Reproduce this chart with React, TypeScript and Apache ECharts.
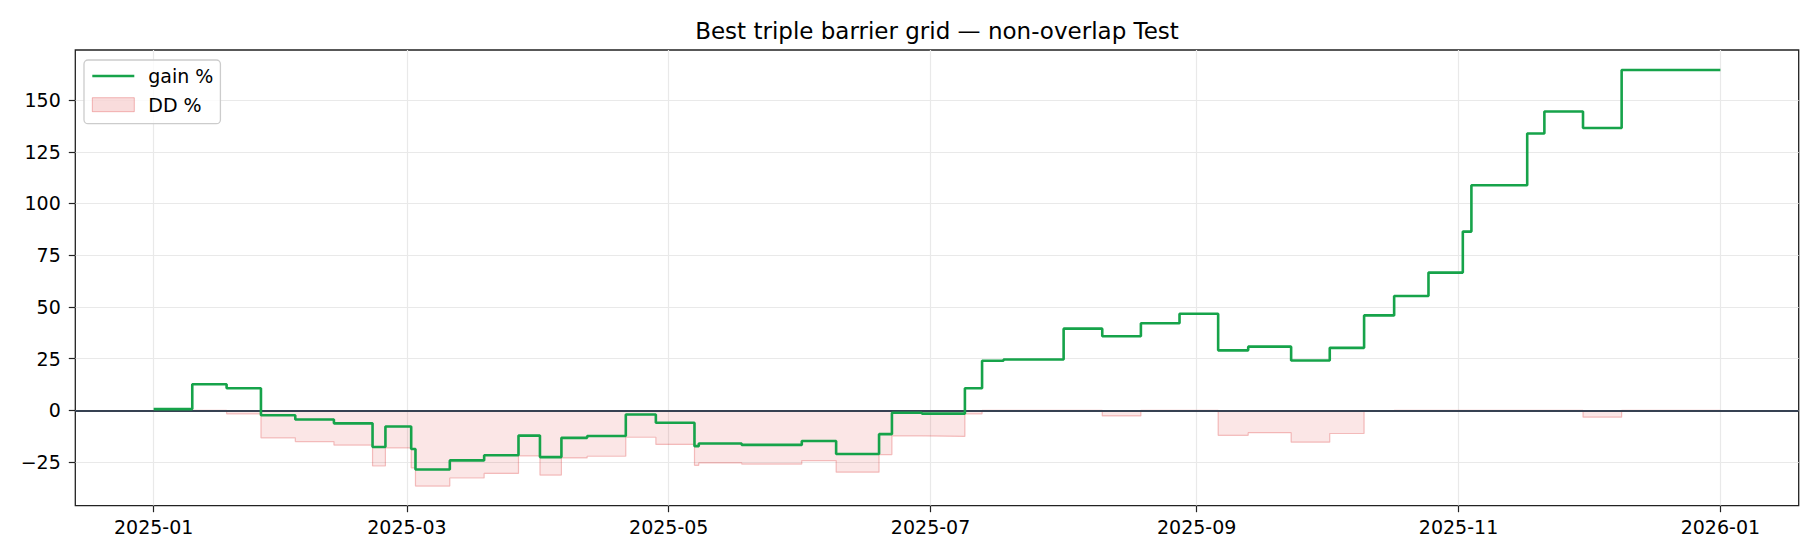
import React, { useEffect, useRef } from "react";
import * as echarts from "echarts";

const TITLE = "Best triple barrier grid — non-overlap Test";
const GAIN_NAME = "gain %";
const DD_NAME = "DD %";

// change points of the stepped equity curve
const gainDates = [
  "2025-01-01", "2025-01-10", "2025-01-18", "2025-01-26", "2025-02-03", "2025-02-12",
  "2025-02-21", "2025-02-24", "2025-03-02", "2025-03-03", "2025-03-11", "2025-03-19",
  "2025-03-27", "2025-04-01", "2025-04-06", "2025-04-12", "2025-04-21", "2025-04-28",
  "2025-05-07", "2025-05-08", "2025-05-18", "2025-06-01", "2025-06-09", "2025-06-19",
  "2025-06-22", "2025-06-29", "2025-07-09", "2025-07-13", "2025-07-18", "2025-08-01",
  "2025-08-10", "2025-08-19", "2025-08-28", "2025-09-06", "2025-09-13", "2025-09-23",
  "2025-10-02", "2025-10-10", "2025-10-17", "2025-10-25", "2025-11-02", "2025-11-04",
  "2025-11-17", "2025-11-21", "2025-11-30", "2025-12-09", "2026-01-01",
];
const gainValues = [
  0.6, 12.6, 10.7, -2.4, -4.4, -6.3,
  -17.7, -7.8, -18.7, -28.6, -24.2, -21.7,
  -12.2, -22.6, -13.3, -12.4, -2.0, -6.0,
  -17.3, -16.0, -16.7, -14.8, -21.1, -11.5,
  -1.2, -1.6, 10.7, 24.0, 24.6, 39.5,
  35.8, 42.1, 46.7, 29.0, 30.8, 24.1,
  30.2, 45.9, 55.3, 66.6, 86.4, 108.8,
  133.8, 144.5, 136.5, 164.5, 164.5,
];
const ddValues = [
  0, 0, -1.7, -13.3, -15.1, -16.8,
  -26.9, -18.1, -27.8, -36.6, -32.7, -30.5,
  -22.0, -31.3, -23.0, -22.2, -13.0, -16.5,
  -26.6, -25.4, -26.0, -24.3, -29.9, -21.4,
  -12.3, -12.6, -1.7, 0, 0, 0,
  -2.7, 0, 0, -12.1, -10.8, -15.4,
  -11.2, -0.5, 0, 0, 0, 0,
  0, 0, -3.3, 0, 0,
];

const xTickDates = ["2025-01-01", "2025-03-01", "2025-05-01", "2025-07-01", "2025-09-01", "2025-11-01", "2026-01-01"];
const xTickLabels = ["2025-01", "2025-03", "2025-05", "2025-07", "2025-09", "2025-11", "2026-01"];
const yTicks = [-25, 0, 25, 50, 75, 100, 125, 150];
const yTickLabels = ["−25", "0", "25", "50", "75", "100", "125", "150"];

const FONT = "DejaVu Sans";

function toTs(s: string): number {
  const [y, m, d] = s.split("-").map(Number);
  return new Date(y, m - 1, d).getTime();
}

export default function App() {
  const ref = useRef<HTMLDivElement>(null);

  useEffect(() => {
    if (!ref.current) return;
    const chart = echarts.init(ref.current, null, { renderer: "svg" });
    const xTickTs = xTickDates.map(toTs);
    const xMin = new Date(2024, 11, 13, 18).getTime();
    const xMax = new Date(2026, 0, 19, 6).getTime();
    const DAY = 86400000;

    const option: any = {
      animation: false,
      backgroundColor: "#ffffff",
      textStyle: { fontFamily: FONT },
      grid: {
        left: 75.3,
        right: 21.3,
        top: 50,
        bottom: 54.3,
        show: true,
        borderColor: "#222222",
        borderWidth: 1.3,
        backgroundColor: "transparent",
        containLabel: false,
      },
      graphic: [
        {
          type: "text",
          x: 937,
          y: 31,
          style: {
            text: TITLE,
            fontSize: 23,
            fontFamily: FONT,
            fill: "#000000",
            align: "center",
            verticalAlign: "middle",
            textAlign: "center",
            textVerticalAlign: "middle",
          },
        },
      ],
      legend: {
        orient: "vertical",
        left: 84,
        top: 60,
        padding: [5, 7, 8, 7],
        itemGap: 6.7,
        itemWidth: 42,
        itemHeight: 14,
        backgroundColor: "rgba(255,255,255,0.8)",
        borderColor: "#cccccc",
        borderWidth: 1.3,
        borderRadius: 4,
        textStyle: { fontSize: 19, fontFamily: FONT, color: "#000000", lineHeight: 22, padding: [0, 0, 0, 9] },
        data: [
          {
            name: GAIN_NAME,
            itemStyle: { opacity: 0, color: "transparent", borderWidth: 0 },
            lineStyle: { color: "#16a34a", width: 2.6 },
          },
          {
            name: DD_NAME,
            icon: "rect",
            itemStyle: { color: "rgba(220,38,38,0.16)", borderColor: "rgba(220,38,38,0.3)", borderWidth: 1 },
          },
        ],
      },
      xAxis: {
        type: "value",
        min: xMin,
        max: xMax,
        axisLine: { show: false, onZero: false },
        axisTick: {
          show: true,
          customValues: xTickTs,
          length: 6.5,
          lineStyle: { color: "#222222", width: 1.2 },
        },
        axisLabel: {
          show: true,
          customValues: xTickTs,
          fontSize: 19,
          fontFamily: FONT,
          color: "#000000",
          margin: 12,
          hideOverlap: false,
          formatter: (v: number) => {
            const i = xTickTs.findIndex((t) => Math.abs(t - v) < DAY);
            return i >= 0 ? xTickLabels[i] : "";
          },
        },
        splitLine: { show: true, lineStyle: { color: "#e9e9e9", width: 1.2 } },
      },
      yAxis: {
        type: "value",
        min: -46.1,
        max: 174.2,
        axisLine: { show: false, onZero: false },
        axisTick: {
          show: true,
          customValues: yTicks,
          length: 6.5,
          lineStyle: { color: "#222222", width: 1.2 },
        },
        axisLabel: {
          show: true,
          customValues: yTicks,
          fontSize: 19,
          fontFamily: FONT,
          color: "#000000",
          margin: 14.5,
          formatter: (v: number) => {
            const i = yTicks.indexOf(Math.round(v));
            return i >= 0 ? yTickLabels[i] : "";
          },
        },
        splitLine: { show: true, lineStyle: { color: "#e9e9e9", width: 1.2 } },
      },
      series: [
        {
          name: DD_NAME,
          type: "line",
          step: "end",
          symbol: "none",
          showSymbol: false,
          data: gainDates.map((d, i) => [toTs(d), ddValues[i]]),
          lineStyle: { color: "rgba(220,38,38,0.28)", width: 1.2 },
          itemStyle: { color: "rgba(220,38,38,0.16)" },
          areaStyle: { color: "rgba(220,38,38,0.16)", origin: "auto" },
          z: 2,
          markLine: {
            silent: true,
            symbol: "none",
            label: { show: false },
            lineStyle: { color: "#364152", width: 2.2, type: "solid" },
            data: [{ yAxis: 0 }],
          },
        },
        {
          name: GAIN_NAME,
          type: "line",
          step: "end",
          symbol: "none",
          showSymbol: false,
          data: gainDates.map((d, i) => [toTs(d), gainValues[i]]),
          lineStyle: { color: "#16a34a", width: 2.6 },
          itemStyle: { color: "#16a34a" },
          z: 10,
        },
      ],
    };

    chart.setOption(option);
    return () => {
      chart.dispose();
    };
  }, []);

  return (
    <div
      ref={ref}
      style={{ position: "fixed", left: 0, top: 0, width: 1820, height: 560, background: "#ffffff" }}
    />
  );
}
